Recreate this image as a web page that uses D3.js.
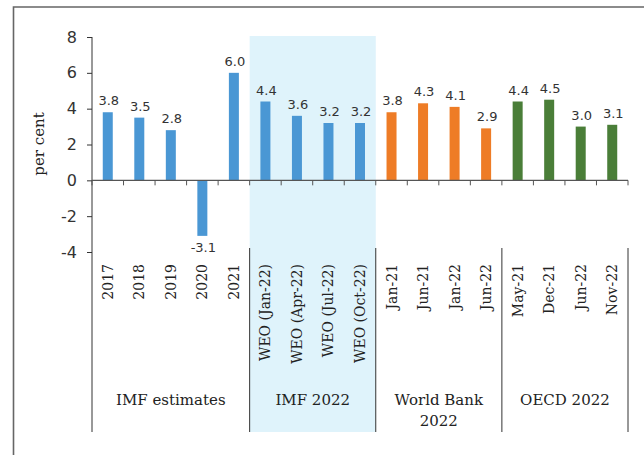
<!DOCTYPE html>
<html>
    <head>
        <meta charset="utf-8">
        <script src="https://d3js.org/d3.v7.min.js"></script>
        <style>
            body { margin: 0; background: #fff; }
        </style>
    </head>
    <body>
        <svg height="455" width="644" id="chart"></svg>
        <script>
            // chart data
            const categories=["2017","2018","2019","2020","2021",
                "WEO (Jan-22)","WEO (Apr-22)","WEO (Jul-22)","WEO (Oct-22)",
                "Jan-21","Jun-21","Jan-22","Jun-22",
                "May-21","Dec-21","Jun-22 ","Nov-22"];
            const values=[3.8,3.5,2.8,-3.1,6.0,4.4,3.6,3.2,3.2,3.8,4.3,4.1,2.9,4.4,4.5,3.0,3.1];
            const source=["imf","imf","imf","imf","imf","imf","imf","imf","imf",
                "wb","wb","wb","wb","oecd","oecd","oecd","oecd"];
            const groupNames=[["IMF estimates"],["IMF 2022"],["World Bank","2022"],["OECD 2022"]];
            const groupStart=[0,5,9,13];
            const groupEnd=[5,9,13,17];
            const yTicks=[-4,-2,0,2,4,6,8];

            const colors={imf:"#4a97d4", wb:"#ee7c26", oecd:"#4a7e38"};

            let svg=d3.select("#chart");
            const plotLeft=92, plotRight=628, plotTop=37, plotBottom=252;
            const sepTop=248, sepBottom=432;

            let x=d3.scaleBand().domain(categories).range([plotLeft, plotRight]).padding(0);
            let y=d3.scaleLinear().domain([-4, 8]).range([plotBottom, plotTop]);
            let bw=x.bandwidth();
            let barW=10;

            // outer frame
            svg.append("path")
                .attr("d", "M13.5,460 V7 H650")
                .attr("fill", "none")
                .attr("stroke", "#666")
                .attr("stroke-width", 1.6);

            // shaded IMF 2022 block
            let edge=i => i<categories.length ? x(categories[i]) : plotRight;
            svg.append("rect")
                .attr("x", edge(groupStart[1]))
                .attr("y", 36)
                .attr("width", edge(groupEnd[1])-edge(groupStart[1]))
                .attr("height", sepBottom-36)
                .attr("fill", "#dff3fb");

            // bars
            svg.append("g").selectAll("rect")
                .data(values)
                .join("rect")
                .attr("x", (d,i) => x(categories[i])+(bw-barW)/2)
                .attr("y", d => y(Math.max(0,d)))
                .attr("width", barW)
                .attr("height", d => Math.abs(y(d)-y(0)))
                .attr("fill", (d,i) => colors[source[i]]);

            // value labels
            svg.append("g").selectAll("text")
                .data(values)
                .join("text")
                .attr("x", (d,i) => x(categories[i])+bw/2+1)
                .attr("y", d => d>=0 ? y(d)-7 : y(d)+16)
                .attr("text-anchor", "middle")
                .style("font-family", "DejaVu Sans, sans-serif")
                .style("font-size", "13px")
                .style("fill", "#333")
                .text(d => d.toFixed(1));

            // y axis
            let yAxis=svg.append("g")
                .attr("transform", `translate(${plotLeft},0)`)
                .call(d3.axisLeft(y).tickValues(yTicks).tickSize(5).tickPadding(10).tickFormat(d => String(d)));
            yAxis.select(".domain").remove();
            yAxis.selectAll("line").attr("stroke", "#333");
            yAxis.selectAll("text")
                .style("font-family", "DejaVu Sans, sans-serif")
                .style("font-size", "16px")
                .style("fill", "#333");

            svg.append("line")
                .attr("x1", plotLeft).attr("x2", plotLeft)
                .attr("y1", plotTop).attr("y2", sepBottom)
                .attr("stroke", "#333");

            // x axis line and ticks at band edges
            svg.append("line")
                .attr("x1", plotLeft).attr("x2", plotRight)
                .attr("y1", y(0)).attr("y2", y(0))
                .attr("stroke", "#555").attr("stroke-width", 1.2);
            svg.append("g").selectAll("line")
                .data(d3.range(categories.length+1))
                .join("line")
                .attr("x1", i => edge(i)).attr("x2", i => edge(i))
                .attr("y1", y(0)).attr("y2", y(0)+5)
                .attr("stroke", "#555");

            // category labels
            svg.append("g").selectAll("text")
                .data(categories)
                .join("text")
                .attr("transform", d => `translate(${x(d)+bw/2+5},264) rotate(-90)`)
                .attr("text-anchor", "end")
                .style("font-family", "DejaVu Serif, serif")
                .style("font-size", "14px")
                .style("fill", "#222")
                .text(d => d.trim());

            // group separators
            svg.append("g").selectAll("line")
                .data(groupEnd)
                .join("line")
                .attr("x1", d => edge(d)).attr("x2", d => edge(d))
                .attr("y1", sepTop).attr("y2", sepBottom)
                .attr("stroke", "#333");

            // group labels
            let gl=svg.append("g").selectAll("text")
                .data(groupNames)
                .join("text")
                .attr("x", (d,i) => (edge(groupStart[i])+edge(groupEnd[i]))/2)
                .attr("y", 405)
                .attr("text-anchor", "middle")
                .style("font-family", "DejaVu Serif, serif")
                .style("font-size", "15px")
                .style("fill", "#222");
            gl.selectAll("tspan")
                .data(d => d)
                .join("tspan")
                .attr("x", function(){ return this.parentNode.getAttribute("x"); })
                .attr("dy", (d,i) => i==0 ? 0 : 21)
                .text(d => d);

            // y axis title
            svg.append("text")
                .attr("transform", "translate(44,144) rotate(-90)")
                .attr("text-anchor", "middle")
                .style("font-family", "DejaVu Serif, serif")
                .style("font-size", "15px")
                .style("fill", "#222")
                .text("per cent");
        </script>
    </body>
</html>
